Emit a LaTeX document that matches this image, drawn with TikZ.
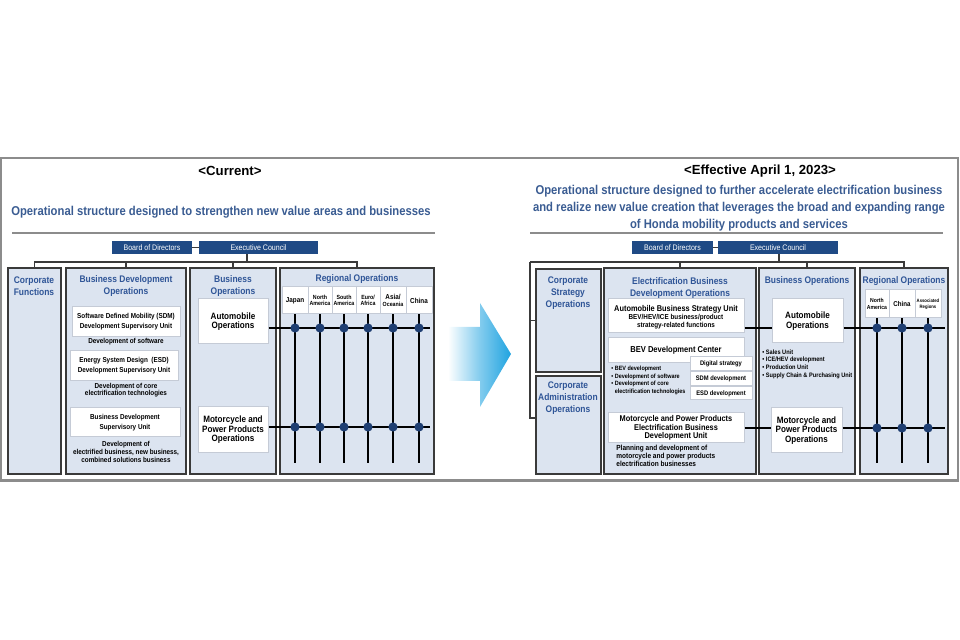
\documentclass[tikz,border=0pt]{standalone}
\usepackage{fontspec}
\setmainfont{Liberation Sans}[FakeStretch=0.88]
\newfontfamily\headfont{Liberation Sans}

\definecolor{navy}{HTML}{1F4A85}
\definecolor{titleblue}{HTML}{2F5597}
\definecolor{subblue}{HTML}{3A5C92}
\definecolor{panelfill}{HTML}{DCE4F0}
\definecolor{panelline}{HTML}{3A3A3A}
\definecolor{boxline}{HTML}{C5CBD6}
\definecolor{hubblue}{HTML}{1E3E72}
\definecolor{arrowblue}{HTML}{1FA3E0}
\definecolor{framegray}{HTML}{8C8C8C}

\tikzset{
  wh/.style 2 args={minimum width=#1*0.5pt, minimum height=#2*0.5pt},
  panel/.style={draw=panelline, fill=panelfill, line width=0.9pt, inner sep=0pt},
  unitbox/.style={draw=boxline, fill=white, line width=0.5pt, inner sep=0pt, align=center,
    font=\bfseries\fontsize{3.6}{5}\selectfont},
  opsbox/.style={unitbox, font=\bfseries\fontsize{4.6}{4.8}\selectfont},
  regbox/.style={unitbox, font=\bfseries\fontsize{3}{3.3}\selectfont},
  smallbox/.style={unitbox, font=\bfseries\fontsize{3.3}{4}\selectfont},
  navybox/.style={fill=navy, text=white, inner sep=0pt, font=\fontsize{4}{4.5}\selectfont},
  ptitle/.style={text=titleblue, inner sep=0pt, align=center, font=\bfseries\fontsize{4.8}{6}\selectfont},
  note/.style={inner sep=0pt, align=center, font=\bfseries\fontsize{3.6}{3.8}\selectfont},
  bullets/.style={inner sep=0pt, align=left, anchor=north west, font=\bfseries\fontsize{3.1}{3.7}\selectfont},
  heading/.style={inner sep=0pt, font=\headfont\bfseries\fontsize{6.6}{7}\selectfont},
  subhead/.style={text=subblue, inner sep=0pt, align=center, font=\bfseries\fontsize{6.4}{8.5}\selectfont},
  link/.style={draw=panelline, line width=0.6pt},
  wire/.style={line width=0.9pt},
  hub/.style={circle, fill=hubblue, inner sep=0pt, minimum size=4.6pt},
}

\begin{document}
\begin{tikzpicture}[x=0.5pt, y=-0.5pt]
  \useasboundingbox (0,0) rectangle (960,640);

  % Frame
  \draw[framegray, line width=1pt] (1,158) rectangle (958,481);
  \draw[framegray, line width=1.5pt] (1,481) -- (958,481);

  % ---------------- Current ----------------
  \node[heading] (curhead) at (230,171) {<Current>};
  \node[subhead] (cursub) at (221,212) {Operational structure designed to strengthen new value areas and businesses};
  \draw[framegray, line width=0.6pt] (12,233) -- (435,233);

  % Board and council
  \node[navybox, wh={80}{13}] (bod1) at (152,247.5) {Board of Directors};
  \node[navybox, wh={119}{13}] (ec1) at (258.5,247.5) {Executive Council};
  \draw[link] (bod1) -- (ec1);

  % Operations
  \node[panel, wh={53}{206}] (cf1) at (34.5,371) {};
  \node[panel, wh={120}{206}] (bdo1) at (126,371) {};
  \node[panel, wh={86}{206}] (bo1) at (233,371) {};
  \node[panel, wh={154}{206}] (ro1) at (357,371) {};
  \coordinate (tap1) at (247,262);
  \draw[link] (tap1 |- ec1.south) -- (tap1);
  \draw[link] (cf1.north) -- (cf1.north |- tap1) -| (ro1.north);
  \draw[link] (bdo1.north) -- (bdo1.north |- tap1);
  \draw[link] (bo1.north) -- (bo1.north |- tap1);

  \node[ptitle] (cf1t) at (34,286) {Corporate\\Functions};
  \node[ptitle] (bdo1t) at (126,286) {Business Development\\Operations};
  \node[ptitle] (bo1t) at (233,286) {Business\\Operations};
  \node[ptitle] (ro1t) at (357,279) {Regional Operations};

  % Business development units
  \node[unitbox, wh={108}{30}] (sdm1) at (126,322) {Software Defined Mobility (SDM)\\Development Supervisory Unit};
  \node[note] (sdm1n) at (126,342) {Development of software};
  \node[unitbox, wh={108}{30}] (esd1) at (124,366) {Energy System Design\ \ (ESD)\\Development Supervisory Unit};
  \node[note] (esd1n) at (126,390) {Development of core\\electrification technologies};
  \node[unitbox, wh={110}{29}] (bdsu1) at (125,422.5) {Business Development\\Supervisory Unit};
  \node[note] (bdsu1n) at (126,452) {Development of\\electrified business, new business,\\combined solutions business};

  % Business operations
  \node[opsbox, wh={70}{45}] (auto1) at (233,321.5) {Automobile\\Operations};
  \node[opsbox, wh={70}{46}] (moto1) at (233,430) {Motorcycle and\\Power Products\\Operations};

  % Regions
  \node[regbox, wh={26}{27}] (jp) at (295,300.5) {\fontsize{3.6}{4}\selectfont Japan};
  \node[regbox, wh={24}{27}] (na) at (320,300.5) {North\\America};
  \node[regbox, wh={24}{27}] (sa) at (344,300.5) {South\\America};
  \node[regbox, wh={24}{27}] (eu) at (368,300.5) {Euro/\\Africa};
  \node[regbox, wh={26}{27}] (as) at (393,300.5) {{\fontsize{3.6}{4}\selectfont Asia/}\\Oceania};
  \node[regbox, wh={26}{27}] (cn) at (419,300.5) {\fontsize{3.6}{4}\selectfont China};

  % Grid
  \coordinate (rowa1) at (430,328);
  \coordinate (rowb1) at (430,427);
  \coordinate (foot1) at (0,463);
  \draw[wire] (auto1.east |- rowa1) -- (rowa1);
  \draw[wire] (moto1.east |- rowb1) -- (rowb1);
  \draw[wire] (jp.south) -- (jp.south |- foot1);
  \draw[wire] (na.south) -- (na.south |- foot1);
  \draw[wire] (sa.south) -- (sa.south |- foot1);
  \draw[wire] (eu.south) -- (eu.south |- foot1);
  \draw[wire] (as.south) -- (as.south |- foot1);
  \draw[wire] (cn.south) -- (cn.south |- foot1);
  \node[hub] (jpa) at (jp.south |- rowa1) {};
  \node[hub] (naa) at (na.south |- rowa1) {};
  \node[hub] (saa) at (sa.south |- rowa1) {};
  \node[hub] (eua) at (eu.south |- rowa1) {};
  \node[hub] (asa) at (as.south |- rowa1) {};
  \node[hub] (cna) at (cn.south |- rowa1) {};
  \node[hub] (jpb) at (jp.south |- rowb1) {};
  \node[hub] (nab) at (na.south |- rowb1) {};
  \node[hub] (sab) at (sa.south |- rowb1) {};
  \node[hub] (eub) at (eu.south |- rowb1) {};
  \node[hub] (asb) at (as.south |- rowb1) {};
  \node[hub] (cnb) at (cn.south |- rowb1) {};

  % Arrow
  \shade[left color=white, right color=arrowblue, middle color=arrowblue!55]
    (448,327) -- (480,327) -- (480,303) -- (511,354) -- (480,407) -- (480,381) -- (448,381) -- cycle;

  % ---------------- Effective April 1, 2023 ----------------
  \node[heading] (newhead) at (760,171) {<Effective April 1, 2023>};
  \node[subhead] (newsub) at (739,208) {Operational structure designed to further accelerate electrification business\\and realize new value creation that leverages the broad and expanding range\\of Honda mobility products and services};
  \draw[framegray, line width=0.6pt] (530,233) -- (943,233);

  % Board and council
  \node[navybox, wh={81}{13}] (bod2) at (672.5,247.5) {Board of Directors};
  \node[navybox, wh={120}{13}] (ec2) at (778,247.5) {Executive Council};
  \draw[link] (bod2) -- (ec2);

  % Operations
  \node[panel, wh={65}{103}] (cso2) at (568.5,320.5) {};
  \node[panel, wh={65}{98}] (cao2) at (568.5,425) {};
  \node[panel, wh={152}{206}] (ebd2) at (680,371) {};
  \node[panel, wh={96}{206}] (bo2) at (807,371) {};
  \node[panel, wh={88}{206}] (ro2) at (904,371) {};
  \coordinate (tap2) at (779,262);
  \coordinate (side2) at (530,262);
  \coordinate (side2b) at (530,418);
  \draw[link] (tap2 |- ec2.south) -- (tap2);
  \draw[link] (side2) -| (ro2.north);
  \draw[link] (ebd2.north) -- (ebd2.north |- side2);
  \draw[link] (bo2.north) -- (bo2.north |- side2);
  \draw[link] (side2) -- (side2b) -- (side2b -| cao2.west);
  \draw[link] (side2 |- cso2.west) -- (cso2.west);

  \node[ptitle] (cso2t) at (568,293) {Corporate\\Strategy\\Operations};
  \node[ptitle] (cao2t) at (568,398) {Corporate\\Administration\\Operations};
  \node[ptitle] (ebd2t) at (680,288) {Electrification Business\\Development Operations};
  \node[ptitle] (bo2t) at (807,281) {Business Operations};
  \node[ptitle] (ro2t) at (904,281) {Regional Operations};

  % Electrification units
  \node[unitbox, wh={136}{34}] (absu) at (676,316) {};
  \node[inner sep=0pt, font=\bfseries\fontsize{4.2}{5}\selectfont] (absut) at (676,309) {Automobile Business Strategy Unit};
  \node[note, font=\bfseries\fontsize{3.6}{4}\selectfont] (absun) at (676,322) {BEV/HEV/ICE business/product\\strategy-related functions};
  \node[unitbox, wh={136}{25}, font=\bfseries\fontsize{4.3}{5}\selectfont] (bevc) at (676,350.5) {BEV Development Center};
  \node[smallbox, wh={62}{14}] (digi) at (721,364) {Digital strategy};
  \node[smallbox, wh={62}{14}] (sdmdev) at (721,379) {SDM development};
  \node[smallbox, wh={62}{13}] (esddev) at (721,393.5) {ESD development};
  \node[bullets] (bevlist) at (611,366) {• BEV development\\• Development of software\\• Development of core\\\phantom{• }electrification technologies};
  \node[unitbox, wh={136}{30}, font=\bfseries\fontsize{4.2}{4.3}\selectfont] (mppe) at (676,428) {Motorcycle and Power Products\\Electrification Business\\Development Unit};
  \node[bullets, font=\bfseries\fontsize{3.7}{4}\selectfont] (mppen) at (616,445) {Planning and development of\\motorcycle and power products\\electrification businesses};

  % Business operations
  \node[opsbox, wh={71}{44}] (auto2) at (807.5,321) {Automobile\\Operations};
  \node[bullets, font=\bfseries\fontsize{3.2}{3.95}\selectfont] (autolist) at (762,349) {• Sales Unit\\• ICE/HEV development\\• Production Unit\\• Supply Chain \& Purchasing Unit};
  \node[opsbox, wh={71}{45}] (moto2) at (806.5,430.5) {Motorcycle and\\Power Products\\Operations};

  % Regions
  \node[regbox, wh={24}{28}, font=\bfseries\fontsize{2.9}{3.3}\selectfont] (na2) at (877,304) {North\\America};
  \node[regbox, wh={26}{28}, font=\bfseries\fontsize{3.5}{4}\selectfont] (cn2) at (902,304) {China};
  \node[regbox, wh={26}{28}, font=\bfseries\fontsize{2.4}{3}\selectfont] (ar2) at (928,304) {Associated\\Regions};

  % Grid
  \coordinate (rowa2) at (945,328);
  \coordinate (rowb2) at (945,428);
  \coordinate (foot2) at (0,463);
  \draw[wire] (absu.east |- rowa2) -- (auto2.west |- rowa2);
  \draw[wire] (auto2.east |- rowa2) -- (rowa2);
  \draw[wire] (mppe.east |- rowb2) -- (moto2.west |- rowb2);
  \draw[wire] (moto2.east |- rowb2) -- (rowb2);
  \draw[wire] (na2.south) -- (na2.south |- foot2);
  \draw[wire] (cn2.south) -- (cn2.south |- foot2);
  \draw[wire] (ar2.south) -- (ar2.south |- foot2);
  \node[hub] (na2a) at (na2.south |- rowa2) {};
  \node[hub] (cn2a) at (cn2.south |- rowa2) {};
  \node[hub] (ar2a) at (ar2.south |- rowa2) {};
  \node[hub] (na2b) at (na2.south |- rowb2) {};
  \node[hub] (cn2b) at (cn2.south |- rowb2) {};
  \node[hub] (ar2b) at (ar2.south |- rowb2) {};
\end{tikzpicture}
\end{document}
